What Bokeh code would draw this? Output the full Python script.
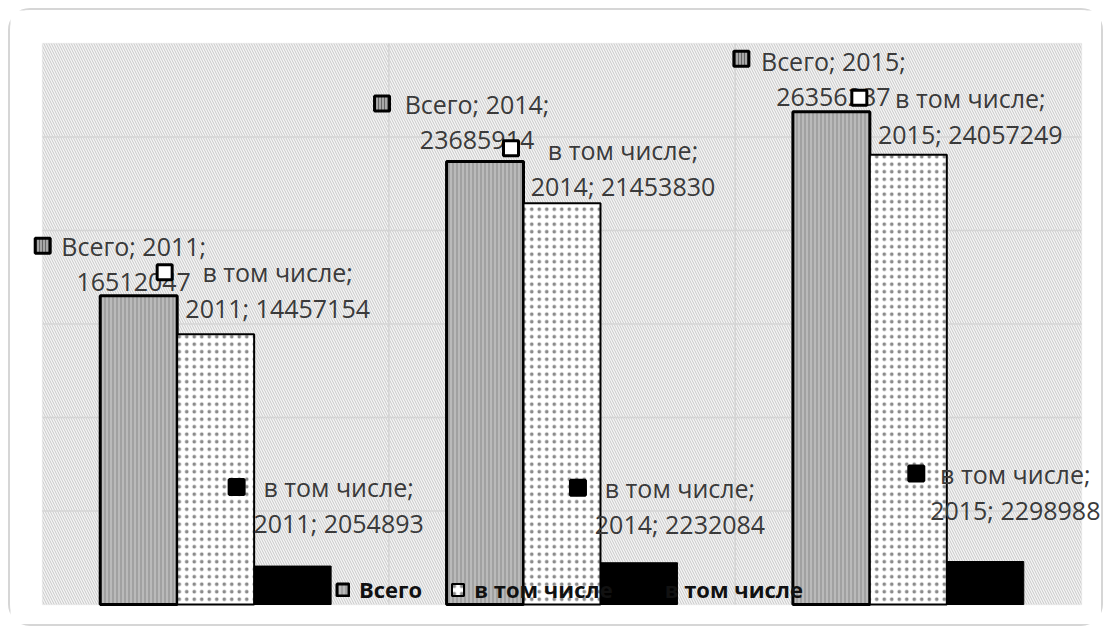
import numpy as np
from bokeh.plotting import figure
from bokeh.models import (Range1d, BoxAnnotation, Legend, LegendItem,
                          ColumnDataSource)
from bokeh.core.properties import value
from bokeh.embed import file_html
from bokeh.resources import INLINE

# ---------------- data ----------------
years = ["2011", "2014", "2015"]
series_names = ["Всего", "в том числе", "в том числе"]
vsego = [16512047, 23685914, 26356237]
vtch_1 = [14457154, 21453830, 24057249]
vtch_2 = [2054893, 2232084, 2298988]
y_max = 30000000
y_step = 5000000

# ---------------- layout / style ----------------
W, H = 1095, 618
# plot-area margins inside the canvas (pixels)
A_L, A_T, A_R, A_B = 32, 33, 24, 24
n = len(years)
area_w = W - A_L - A_R
area_h = H - A_T - A_B
px_x = area_w / n
px_y = area_h / y_max
x_range = Range1d(-A_L / px_x, n + A_R / px_x)
y_range = Range1d(-A_B / px_y, y_max + A_T / px_y)

bar_w = 1 / 4.5
base = np.arange(n) + 0.5
dodges = [-bar_w, 0.0, bar_w]
# label offsets (pixels, screen-down positive) relative to each bar's top centre
lab_text_dx = [[-5, -8, 2], [62, 61, 62], [46, 41, 30]]
lab_text_dy = [[-50, -58, -51], [-62, -53, -57], [-79, -75, -88]]
lab_key_dx = [[-96, -103, -90], [-51, -51, -49], [-56, -61, -69]]
lab_key_dy = [[-50, -58, -53], [-62, -55, -57], [-79, -75, -88]]
line_gap = 36

FONT = "Open Sans"
GRID_C = "#d4d4d4"

p = figure(width=W, height=H, output_backend="svg", toolbar_location=None,
           x_axis_type=None, y_axis_type=None, x_range=x_range, y_range=y_range,
           min_border=0)
p.styles = {"border": "2px solid #d6d6d6", "border-radius": "22px",
            "background-color": "#ffffff", "margin": "8px 0 0 8px"}
p.border_fill_alpha = 0
p.background_fill_color = "#ffffff"
p.outline_line_color = None
p.grid.visible = False

# plot area: background, diagonal hatch and outline
area = BoxAnnotation(left=0, right=n, bottom=0, top=y_max,
                     fill_color="#f5f5f5", fill_alpha=1,
                     hatch_pattern="\\", hatch_color="#c8c8c8", hatch_scale=5,
                     hatch_weight=1, line_color=GRID_C, line_width=1.5,
                     level="underlay")
p.add_layout(area)

# gridlines limited to the plot area
hy = list(range(y_step, y_max, y_step))
p.segment(x0=[0] * len(hy), x1=[n] * len(hy), y0=hy, y1=hy,
          line_color=GRID_C, line_width=1.5)
vx = list(range(1, n))
p.segment(x0=vx, x1=vx, y0=[0] * len(vx), y1=[y_max] * len(vx),
          line_color=GRID_C, line_width=1.5)

all_vals = [vsego, vtch_1, vtch_2]
styles = [
    dict(fill_color="#bababa", hatch_pattern="|", hatch_color="#888888",
         hatch_scale=4, hatch_weight=1, line_color="black", line_width=3),
    dict(fill_color="white", hatch_pattern=".", hatch_color="#8a8a8a",
         hatch_scale=7.5, hatch_weight=0.6, line_color="black", line_width=2),
    dict(fill_color="black", line_color="black", line_width=1),
]
key_styles = [
    dict(fill_color="#a8a8a8", hatch_pattern="|", hatch_color="#666666",
         hatch_scale=3, hatch_weight=1),
    dict(fill_color="white"),
    dict(fill_color="black"),
]

bar_renderers = []
for i, vals in enumerate(all_vals):
    src = ColumnDataSource(dict(x=base + dodges[i], top=vals))
    r = p.vbar(x="x", top="top", width=bar_w, bottom=0, source=src, **styles[i])
    bar_renderers.append(r)

# data labels
key_sources = []
for i, vals in enumerate(all_vals):
    name = series_names[i]
    if i == 0:
        t1 = [f"{name}; {y};" for y in years]
        t2 = [f"{v}" for v in vals]
    else:
        t1 = [f"{name};" for y in years]
        t2 = [f"{y}; {v}" for y, v in zip(years, vals)]
    xs = base + dodges[i]
    src = ColumnDataSource(dict(
        x=xs, y=vals, t1=t1, t2=t2,
        dx=lab_text_dx[i], dy1=lab_text_dy[i],
        dy2=[d + line_gap for d in lab_text_dy[i]],
        kx=[x + d / px_x for x, d in zip(xs, lab_key_dx[i])],
        ky=[v - d / px_y for v, d in zip(vals, lab_key_dy[i])]))
    for tcol, dycol in (("t1", "dy1"), ("t2", "dy2")):
        p.text(x="x", y="y", text=tcol, x_offset="dx", y_offset=dycol, source=src,
               text_font=value(FONT), text_font_size="25px", text_color="#3a3a3a",
               text_align="center", text_baseline="middle")
    key_sources.append(src)

for i, src in enumerate(key_sources):
    p.scatter(x="kx", y="ky", source=src, marker="square", size=15,
              line_color="black", line_width=3, **key_styles[i])

legend = Legend(items=[LegendItem(label=series_names[i], renderers=[bar_renderers[i]])
                       for i in range(3)],
                orientation="horizontal", location=(293 + A_L, A_B), level="underlay",
                background_fill_alpha=0, border_line_alpha=0, padding=0, margin=0,
                spacing=28, label_standoff=9, glyph_width=15, glyph_height=15,
                label_height=20, label_text_font=FONT, label_text_font_size="22px",
                label_text_font_style="bold", label_text_color="#111111")
p.add_layout(legend)

open("out.html", "w").write(file_html(p, INLINE))
